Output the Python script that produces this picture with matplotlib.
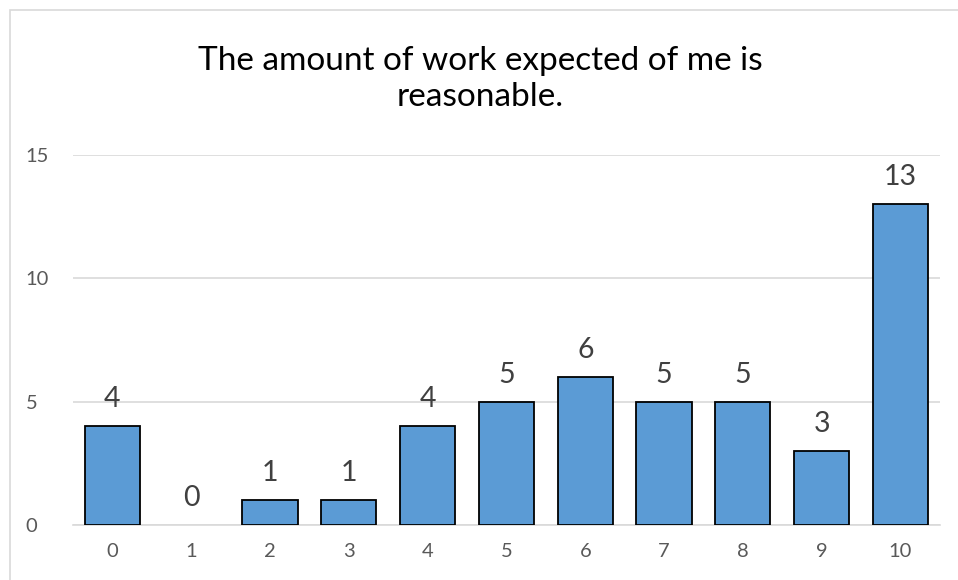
import matplotlib.pyplot as plt
from matplotlib.patches import Rectangle

plt.rcParams['font.family'] = ['Lato', 'DejaVu Sans']

CATEGORIES = ['0', '1', '2', '3', '4', '5', '6', '7', '8', '9', '10']
COUNTS = [4, 0, 1, 1, 4, 5, 6, 5, 5, 3, 13]
Y_TICKS = [0, 5, 10, 15]
TITLE = 'The amount of work expected of me is\nreasonable.'

BAR_COLOR = '#5B9BD5'
GRID_COLOR = '#D9D9D9'
TEXT_COLOR = '#404040'
TICK_COLOR = '#595959'


def main():
    fig = plt.figure(figsize=(9.58, 5.8), dpi=100)
    ax = fig.add_axes([0.0762, 0.0948, 0.9049, 0.638])

    xs = list(range(len(CATEGORIES)))
    # zero-height bars get no outline, as in the Excel chart
    widths = [1.3 if v > 0 else 0 for v in COUNTS]
    ax.bar(xs, COUNTS, width=0.7, color=BAR_COLOR, edgecolor='black', linewidth=widths, zorder=3)

    for x, v in zip(xs, COUNTS):
        ax.annotate(str(v), (x, v), xytext=(0, 10), textcoords='offset points',
                    ha='center', va='bottom', fontsize=20.5, color=TEXT_COLOR)

    ax.set_xlim(-0.5, len(CATEGORIES) - 0.5)
    ax.set_ylim(0, 15)
    ax.set_xticks(xs)
    ax.set_xticklabels(CATEGORIES)
    ax.set_yticks(Y_TICKS)
    ax.tick_params(axis='both', length=0, labelsize=14.5, labelcolor=TICK_COLOR)
    ax.tick_params(axis='x', pad=13)
    ax.tick_params(axis='y', pad=34)
    for lab in ax.get_yticklabels():
        lab.set_horizontalalignment('left')

    ax.grid(axis='y', color=GRID_COLOR, linewidth=1.2, zorder=0)
    for s in ('top', 'right', 'left'):
        ax.spines[s].set_visible(False)
    ax.spines['bottom'].set_color(GRID_COLOR)
    ax.spines['bottom'].set_linewidth(1.2)

    fig.text(0.501, 0.864, TITLE, ha='center', va='center', fontsize=24,
             color='black', linespacing=1.22)

    # chart frame like the Excel chart area
    fig.add_artist(Rectangle((10 / 958, -0.01), 1.0, 1 - 10 / 580 + 0.01,
                             transform=fig.transFigure, fill=False,
                             edgecolor=GRID_COLOR, linewidth=1.2))

    fig.savefig('out.png', dpi=100)
    plt.close(fig)


if __name__ == '__main__':
    main()
